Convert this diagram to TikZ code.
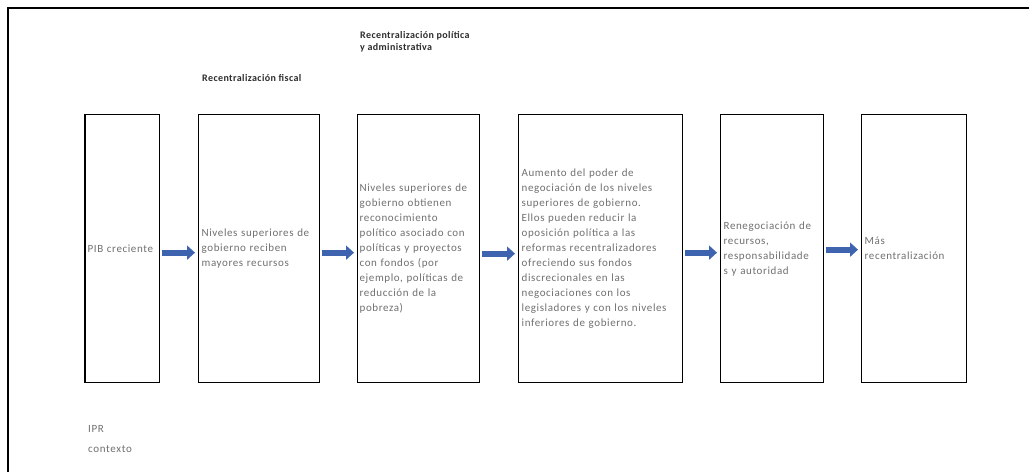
\documentclass[tikz,border=0pt]{standalone}
\usepackage{fontspec}
\setmainfont{Carlito}
\newfontfamily\bxfam[LetterSpace=5.5]{Carlito}
\newfontfamily\ttlfam[LetterSpace=4]{Carlito}
\newfontfamily\notefam[LetterSpace=6]{Carlito}
\usetikzlibrary{arrows.meta}
\definecolor{txtgray}{RGB}{112,112,112}
\definecolor{ttlgray}{RGB}{45,45,45}
\definecolor{arrblue}{RGB}{62,100,176}
\newcommand\bxfont{\bxfam\fontsize{11}{15}\selectfont}
\newcommand\ttlfont{\ttlfam\bfseries\fontsize{10}{12}\selectfont}
\newcommand\notefont{\notefam\fontsize{11}{12}\selectfont}
\begin{document}
\begin{tikzpicture}[x=1pt,y=-1pt,
  box/.style={draw, line width=1.3pt, inner xsep=3pt, inner ysep=0pt,
    anchor=north west, align=left, font=\bxfont, text=txtgray,
    minimum height=268pt},
  arr/.style={line width=6pt, draw=arrblue, -{Triangle[length=8pt,width=14pt]},
    shorten <=2pt, shorten >=3pt},
  ttl/.style={font=\ttlfont, text=ttlgray, align=left, inner sep=0pt},
  note/.style={font=\notefont, text=txtgray, inner sep=0pt, anchor=west}]
\useasboundingbox (0,0) rectangle (1029,472);
\fill[white] (0,0) rectangle (1029,472);
\coordinate (fa) at (8,472);
\coordinate (fb) at (8,8);
\coordinate (fc) at (1029,8);
\draw[line width=2pt] (fa) -- (fb) -- (fc);

\node[box, text width=69pt] (b1) at (84,114) {PIB creciente};
\draw[line width=1.3pt] (b1.north west) ++(1pt,0) -- ([xshift=1pt]b1.south west);
\node[box, text width=115pt] (b2) at (198,114) {Niveles superiores de\\gobierno reciben\\mayores recursos};
\node[box, text width=118pt, inner xsep=2pt] (b3) at (357,114) {Niveles superiores de\\gobierno obtienen\\reconocimiento\\político asociado con\\políticas y proyectos\\con fondos (por\\ejemplo, políticas de\\reducción de la\\pobreza)};
\node[box, text width=158pt] (b4) at (518,114) {Aumento del poder de\\negociación de los niveles\\superiores de gobierno.\\Ellos pueden reducir la\\oposición política a las\\reformas recentralizadores\\ofreciendo sus fondos\\discrecionales en las\\negociaciones con los\\legisladores y con los niveles\\inferiores de gobierno.};
\node[box, text width=97pt] (b5) at (720,114) {Renegociación de\\recursos,\\responsabilidade\\s y autoridad};
\node[box, text width=99pt] (b6) at (861,114) {Más\\recentralización};

\draw[arr] ([yshift=-4pt]b1.east) -- ([yshift=-4pt]b2.west);
\draw[arr] ([yshift=-4pt]b2.east) -- ([yshift=-4pt]b3.west);
\draw[arr] ([yshift=-5pt]b3.east) -- ([yshift=-5pt]b4.west);
\draw[arr] ([yshift=-4pt]b4.east) -- ([yshift=-4pt]b5.west);
\draw[arr] ([yshift=-1pt]b5.east) -- ([yshift=-1pt]b6.west);

\node[ttl, anchor=west] (t1) at (202,78) {Recentralización fiscal};
\node[ttl, anchor=north west] (t2) at (360,31) {Recentralización política\\y administrativa};

\node[note] (ipr) at (88,429) {IPR};
\node[note] (ctx) at (88,449) {contexto};
\end{tikzpicture}
\end{document}
